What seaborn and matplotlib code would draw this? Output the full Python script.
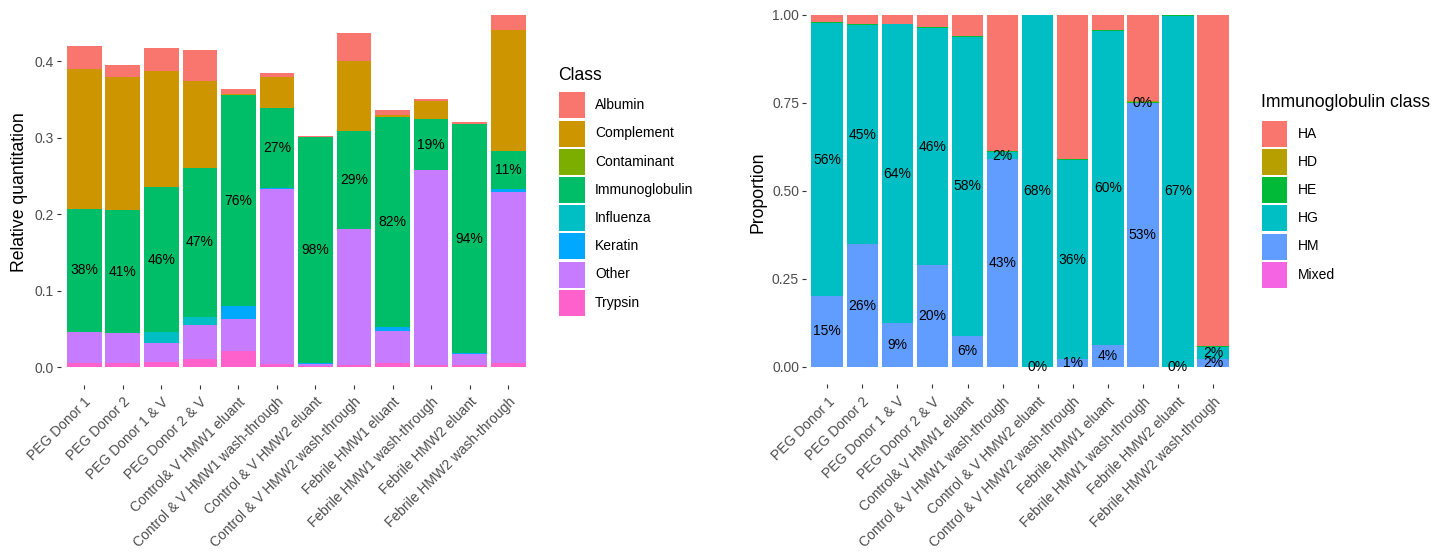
import numpy as np
import pandas as pd
import matplotlib
matplotlib.use("Agg")
import matplotlib.pyplot as plt
from matplotlib.patches import Rectangle
import seaborn as sns

# ---------------- data ----------------
samples = [
    "PEG Donor 1", "PEG Donor 2", "PEG Donor 1 & V", "PEG Donor 2 & V",
    "Control& V HMW1 eluant", "Control & V HMW1 wash-through",
    "Control & V HMW2 eluant", "Control & V HMW2 wash-through",
    "Febrile HMW1 eluant", "Febrile HMW1 wash-through",
    "Febrile HMW2 eluant", "Febrile HMW2 wash-through",
]

class_levels = ["Albumin", "Complement", "Contaminant", "Immunoglobulin",
                "Influenza", "Keratin", "Other", "Trypsin"]
class_colors = ["#F8766D", "#CD9600", "#7CAE00", "#00BE67",
                "#00BFC4", "#00A9FF", "#C77CFF", "#FF61CC"]

albumin        = [0.030, 0.016, 0.029, 0.0405, 0.007, 0.0053, 0.001, 0.0375, 0.0064, 0.0026, 0.0023, 0.0203]
complement     = [0.183, 0.1735, 0.152, 0.113, 0.001, 0.0396, 0.0, 0.091, 0.0024, 0.024, 0.0, 0.158]
contaminant    = [0.0, 0.0, 0.0, 0.0, 0.0004, 0.0, 0.0, 0.0, 0.0, 0.0, 0.0, 0.0]
immunoglobulin = [0.161, 0.1615, 0.1906, 0.195, 0.2756, 0.1047, 0.2955, 0.1284, 0.2752, 0.0673, 0.300, 0.0501]
influenza      = [0.0, 0.0, 0.0134, 0.0115, 0.0, 0.0, 0.0, 0.0, 0.0, 0.0, 0.0, 0.0]
keratin        = [0.0, 0.0, 0.0, 0.0, 0.017, 0.0021, 0.0015, 0.0, 0.0054, 0.0, 0.0014, 0.0036]
other          = [0.041, 0.039, 0.026, 0.0445, 0.0417, 0.2286, 0.003, 0.1776, 0.042, 0.2543, 0.0146, 0.2238]
trypsin        = [0.005, 0.005, 0.006, 0.010, 0.0213, 0.004, 0.001, 0.003, 0.005, 0.003, 0.002, 0.0052]

ig_levels = ["HA", "HD", "HE", "HG", "HM", "Mixed"]
ig_colors = ["#F8766D", "#B79F00", "#00BA38", "#00BFC4", "#619CFF", "#F564E3"]

ha    = [0.0217, 0.0265, 0.025, 0.036, 0.0597, 0.388, 0.0, 0.411, 0.043, 0.245, 0.001, 0.940]
hd    = [0.0, 0.0, 0.0, 0.0, 0.0, 0.0, 0.0, 0.0, 0.0, 0.002, 0.0, 0.002]
he    = [0.0028, 0.0029, 0.0025, 0.002, 0.0028, 0.001, 0.001, 0.002, 0.0025, 0.003, 0.003, 0.003]
hg    = [0.7738, 0.6231, 0.8494, 0.673, 0.8495, 0.022, 0.999, 0.566, 0.892, 0.002, 0.996, 0.034]
hm    = [0.2017, 0.3475, 0.1231, 0.289, 0.088, 0.589, 0.0, 0.021, 0.0625, 0.748, 0.0, 0.021]
mixed = [0.0] * 12

# percentage annotations shown on the HM and HG segments
hm_labels = ["15%", "26%", "9%", "20%", "6%", "43%", "0%", "1%", "4%", "53%", "0%", "2%"]
hg_labels = ["56%", "45%", "64%", "46%", "58%", "2%", "68%", "36%", "60%", "0%", "67%", "2%"]

# ---------------- long tables ----------------
class_values = dict(zip(class_levels, [albumin, complement, contaminant, immunoglobulin,
                                       influenza, keratin, other, trypsin]))
ig_values = dict(zip(ig_levels, [ha, hd, he, hg, hm, mixed]))

sample_cat = pd.CategoricalDtype(samples, ordered=True)
df_class = pd.DataFrame([
    {"Sample": s, "Class": c, "value": class_values[c][i]}
    for c in class_levels for i, s in enumerate(samples)
])
df_class["Sample"] = df_class["Sample"].astype(sample_cat)
df_ig = pd.DataFrame([
    {"Sample": s, "Ig": c, "value": ig_values[c][i]}
    for c in ig_levels for i, s in enumerate(samples)
])
df_ig["Sample"] = df_ig["Sample"].astype(sample_cat)

# ---------------- style ----------------
sns.set_theme(style="white")
plt.rcParams["font.family"] = ["Liberation Sans", "DejaVu Sans"]

W, H = 1451, 554
fig = plt.figure(figsize=(W / 100, H / 100), dpi=100)
fig.patch.set_facecolor("white")

ax1 = fig.add_axes([61.1 / W, 1 - 384.6 / H, (531.3 - 61.1) / W, 384.6 / H])
ax2 = fig.add_axes([806.2 / W, 1 - 384.3 / H, (1234.0 - 806.2) / W, 384.3 / H])

sns.histplot(data=df_class, x="Sample", hue="Class", weights="value",
             multiple="stack", discrete=True, shrink=0.9,
             hue_order=class_levels, palette=class_colors,
             alpha=1, linewidth=0, legend=False, ax=ax1)
sns.histplot(data=df_ig, x="Sample", hue="Ig", weights="value",
             multiple="stack", discrete=True, shrink=0.9,
             hue_order=ig_levels, palette=ig_colors,
             alpha=1, linewidth=0, legend=False, ax=ax2)

# percentage of immunoglobulin in each sample, centred on its segment
ig_arr = np.array(immunoglobulin)
totals = np.sum([np.array(v) for v in class_values.values()], axis=0)
ig_bottom = np.array(trypsin) + np.array(other) + np.array(keratin) + np.array(influenza)
for i in range(len(samples)):
    ax1.text(i, ig_bottom[i] + ig_arr[i] / 2, f"{round(100 * ig_arr[i] / totals[i])}%",
             ha="center", va="center", fontsize=10, color="black")

hm_arr = np.array(hm)
hg_arr = np.array(hg)
mixed_arr = np.array(mixed)
for i in range(len(samples)):
    ax2.text(i, mixed_arr[i] + hm_arr[i] / 2, hm_labels[i],
             ha="center", va="center", fontsize=10, color="black")
    ax2.text(i, mixed_arr[i] + hm_arr[i] + hg_arr[i] / 2, hg_labels[i],
             ha="center", va="center", fontsize=10, color="black")

# ---------------- axes ----------------
ax1.set_ylim(-0.023, 0.4804)
ax1.set_yticks([0.0, 0.1, 0.2, 0.3, 0.4])
ax1.set_yticklabels(["0.0", "0.1", "0.2", "0.3", "0.4"])
ax1.set_ylabel("Relative quantitation", fontsize=12.7, color="black")
ax1.yaxis.set_label_coords((28 - 61.1) / (531.3 - 61.1), 0.5)

ax2.set_ylim(-0.05, 1.0418)
ax2.set_yticks([0.0, 0.25, 0.5, 0.75, 1.0])
ax2.set_yticklabels(["0.00", "0.25", "0.50", "0.75", "1.00"])
ax2.set_ylabel("Proportion", fontsize=12.7, color="black")
ax2.yaxis.set_label_coords((766 - 806.2) / (1234.0 - 806.2), 0.5)

for ax in (ax1, ax2):
    ax.set_xlim(-0.6, 11.6)
    ax.set_xticks(range(len(samples)))
    ax.set_xticklabels(samples, rotation=45, ha="right", va="top",
                       rotation_mode="anchor")
    ax.set_xlabel("")
    ax.tick_params(axis="both", length=2.9, width=0.8, color="#333333",
                   labelcolor="#4D4D4D", labelsize=10, pad=2.2,
                   bottom=True, left=True)
    ax.tick_params(axis="x", pad=4.5)
    for sp in ax.spines.values():
        sp.set_visible(False)
    ax.set_facecolor("white")
    ax.grid(False)


# ---------------- legends ----------------
def draw_legend(title, labels, colors, title_x, title_y, key_x, first_top,
                key_w, key_h, step, text_x):
    fig.text(title_x / W, 1 - title_y / H, title, fontsize=12.7,
             ha="left", va="center", color="black")
    for i, (lab, col) in enumerate(zip(labels, colors)):
        top = first_top + i * step
        fig.add_artist(Rectangle((key_x / W, 1 - (top + key_h) / H),
                                 key_w / W, key_h / H,
                                 transform=fig.transFigure,
                                 facecolor=col, edgecolor="none"))
        fig.text(text_x / W, 1 - (top + key_h / 2) / H, lab, fontsize=10,
                 ha="left", va="center", color="black")


draw_legend("Class", class_levels, class_colors,
            558.3, 75, 559, 92.3, 26, 26, 28.2, 595)
draw_legend("Immunoglobulin class", ig_levels, ig_colors,
            1260.7, 102.7, 1261.7, 120.7, 25, 26, 28.2, 1297.7)

fig.savefig("out.png", dpi=100, facecolor="white")
